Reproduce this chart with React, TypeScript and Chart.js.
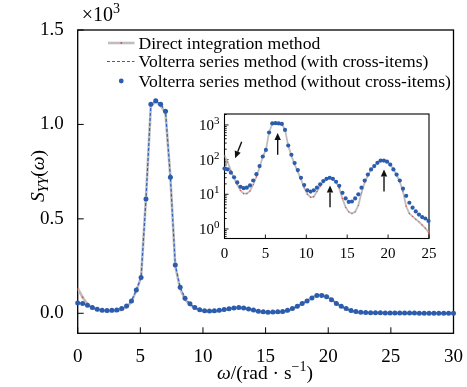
import React, { useEffect, useRef } from 'react';
import { Chart, registerables } from 'chart.js';

Chart.register(...registerables);

// ---------------- data ----------------
const omega = [
  0, 0.39, 0.78, 1.17, 1.56, 1.95, 2.34, 2.73, 3.12, 3.51,
  3.9, 4.29, 4.68, 5.06, 5.45, 5.84, 6.23, 6.62, 7.01, 7.4,
  7.79, 8.18, 8.57, 8.96, 9.35, 9.74, 10.13, 10.52, 10.91, 11.3,
  11.69, 12.08, 12.47, 12.86, 13.25, 13.64, 14.03, 14.42, 14.81, 15.19,
  15.58, 15.97, 16.36, 16.75, 17.14, 17.53, 17.92, 18.31, 18.7, 19.09,
  19.48, 19.87, 20.26, 20.65, 21.04, 21.43, 21.82, 22.21, 22.6, 22.99,
  23.38, 23.77, 24.16, 24.55, 24.94, 25.32, 25.71, 26.1, 26.49, 26.88,
  27.27, 27.66, 28.05, 28.44, 28.83, 29.22, 29.61, 30,
];

const directIntegration = [
  132, 85, 48, 29, 19, 13, 10.5, 10.5, 12.5, 19,
  32, 60, 120, 190, 610, 1100, 1120, 1100, 1060, 720,
  250, 130, 72, 45, 27, 15.5, 10, 8.2, 8.5, 12,
  17, 22.5, 27, 29, 27.5, 22, 15, 7.5, 4.2, 3.1,
  2.8, 3.1, 4.8, 11, 22, 35, 51, 65, 83, 97,
  98, 90, 74, 53, 36, 23, 12, 4.5, 2.8, 2.3,
  1.9, 1.6, 1.3, 1.05, 0.8, 0.7, 0.6, 0.52, 0.46, 0.41,
  0.36, 0.32, 0.29, 0.26, 0.23, 0.21, 0.19, 0.17,
];

const volterraWithCross = [
  55, 52, 42, 31, 22, 16.5, 15, 15.5, 18, 25,
  38, 65, 123, 190, 605, 1107, 1125, 1107, 1070, 720,
  255, 138, 80, 50, 30, 18.5, 13, 12, 13, 15.5,
  19.5, 24, 28, 30, 28, 23, 17.5, 11, 7.6, 6,
  6.2, 7.6, 10, 15.5, 25, 37, 52, 65, 81, 94,
  94, 87, 72, 52, 37, 25, 14.5, 9, 5.7, 4.1,
  3.2, 2.6, 2.2, 2, 1.7, 1.5, 1.3, 1.15, 1, 0.9,
  0.8, 0.7, 0.62, 0.55, 0.5, 0.45, 0.4, 0.36,
];

const volterraWithoutCross = [
  55, 52, 42, 31, 22, 16.5, 15, 15.5, 18, 25,
  38, 65, 123, 190, 605, 1107, 1125, 1107, 1070, 720,
  255, 138, 80, 50, 30, 18.5, 13, 12, 13, 15.5,
  19.5, 24, 28, 30, 28, 23, 17.5, 11, 7.6, 6,
  6.2, 7.6, 10, 15.5, 25, 37, 52, 65, 81, 94,
  94, 87, 72, 52, 37, 25, 14.5, 9, 5.7, 4.1,
  3.2, 2.6, 2.2, 2, 1.7, 1.5, 1.3, 1.15, 1, 0.9,
  0.8, 0.7, 0.62, 0.55, 0.5, 0.45, 0.4, 0.36,
];

const mainXTicks = [0, 5, 10, 15, 20, 25, 30];
const mainYTicks = [0, 0.5, 1.0, 1.5];
const insetXTicks = [0, 5, 10, 15, 20, 25];
const insetYExponents = [0, 1, 2, 3];
const legendLabels = [
  'Direct integration method',
  'Volterra series method (with cross-items)',
  'Volterra series method (without cross-items)',
];
// inset annotation arrows, in data coordinates (omega, S_YY): tail -> head
const arrowTails = [
  [2.1, 330],
  [6.5, 138],
  [12.9, 4.2],
  [19.5, 12],
];
const arrowHeads = [
  [1.3, 110],
  [6.5, 590],
  [12.9, 18],
  [19.5, 52],
];

// ---------------- style ----------------
const SERIF = '"Liberation Serif", "Times New Roman", serif';
const BLUE = '#2b5cad';
const DASH_BLUE = '#2f62c2';
const GRAY = 'rgba(190,190,190,1)';
const RED = '#e2504a';
const MAIN_SCALE = 1000;
const INSET_MAX_X = 25;

type Seg = { t: string; size: number; italic?: boolean; dy?: number };

function drawSegs(ctx: CanvasRenderingContext2D, segs: Seg[], x: number, y: number, align: 'left' | 'center' | 'right') {
  const fontOf = (s: Seg) => `${s.italic ? 'italic ' : ''}${s.size}px ${SERIF}`;
  let total = 0;
  const widths = segs.map((s) => {
    ctx.font = fontOf(s);
    const w = ctx.measureText(s.t).width;
    total += w;
    return w;
  });
  let cx = align === 'center' ? x - total / 2 : align === 'right' ? x - total : x;
  ctx.textAlign = 'left';
  ctx.textBaseline = 'alphabetic';
  segs.forEach((s, i) => {
    ctx.font = fontOf(s);
    ctx.fillText(s.t, cx, y + (s.dy || 0));
    cx += widths[i];
  });
}

const mainFrame = {
  id: 'mainFrame',
  beforeDatasetsDraw(chart: any) {
    const { ctx, chartArea: a, scales } = chart;
    ctx.save();
    ctx.strokeStyle = '#000';
    ctx.lineWidth = 1.3;
    ctx.strokeRect(a.left, a.top, a.right - a.left, a.bottom - a.top);
    ctx.beginPath();
    ctx.lineWidth = 1;
    mainXTicks.forEach((v) => {
      const px = scales.x.getPixelForValue(v);
      ctx.moveTo(px, a.bottom);
      ctx.lineTo(px, a.bottom - 6);
    });
    mainYTicks.forEach((v) => {
      const py = scales.y.getPixelForValue(v);
      ctx.moveTo(a.left, py);
      ctx.lineTo(a.left + 6, py);
    });
    ctx.stroke();
    ctx.restore();
  },
  afterDraw(chart: any) {
    const { ctx, chartArea: a } = chart;
    ctx.save();
    ctx.fillStyle = '#000';
    // multiplier
    drawSegs(ctx, [{ t: '×10', size: 20 }, { t: '3', size: 14, dy: -8 }], a.left + 4, a.top - 9, 'left');
    // y title
    ctx.save();
    ctx.translate(44, 176);
    ctx.rotate(-Math.PI / 2);
    drawSegs(
      ctx,
      [
        { t: 'S', size: 19.5, italic: true },
        { t: 'YY', size: 14, italic: true, dy: 4 },
        { t: '(', size: 19.5 },
        { t: 'ω', size: 19.5, italic: true },
        { t: ')', size: 19.5 },
      ],
      0,
      0,
      'center'
    );
    ctx.restore();
    // x title
    drawSegs(
      ctx,
      [
        { t: 'ω', size: 19.5, italic: true },
        { t: '/(rad', size: 19.5 },
        { t: ' · ', size: 19.5 },
        { t: 's', size: 19.5 },
        { t: '−1', size: 14, dy: -8 },
        { t: ')', size: 19.5 },
      ],
      265,
      379,
      'center'
    );
    // legend
    const rowY = [43, 61.5, 81];
    const x0 = 108;
    const x1 = 134.5;
    const tx = 138.5;
    // row 1: gray line with red marker
    ctx.strokeStyle = GRAY;
    ctx.lineWidth = 2.6;
    ctx.beginPath();
    ctx.moveTo(x0, rowY[0]);
    ctx.lineTo(x1, rowY[0]);
    ctx.stroke();
    ctx.fillStyle = RED;
    ctx.beginPath();
    ctx.arc((x0 + x1) / 2, rowY[0], 1, 0, Math.PI * 2);
    ctx.fill();
    // row 2: dashed blue
    ctx.strokeStyle = DASH_BLUE;
    ctx.lineWidth = 1.2;
    ctx.setLineDash([3, 2]);
    ctx.beginPath();
    ctx.moveTo(x0 - 1, rowY[1]);
    ctx.lineTo(x1, rowY[1]);
    ctx.stroke();
    ctx.setLineDash([]);
    // row 3: dot
    ctx.fillStyle = BLUE;
    ctx.beginPath();
    ctx.arc((x0 + x1) / 2, rowY[2], 2.4, 0, Math.PI * 2);
    ctx.fill();
    ctx.fillStyle = '#000';
    legendLabels.forEach((l, i) => {
      drawSegs(ctx, [{ t: l, size: 17.6 }], tx, rowY[i] + 5.8, 'left');
    });
    ctx.restore();
  },
};

const insetFrame = {
  id: 'insetFrame',
  beforeDatasetsDraw(chart: any) {
    const { ctx, chartArea: a, scales } = chart;
    ctx.save();
    ctx.strokeStyle = '#000';
    ctx.lineWidth = 1.1;
    ctx.strokeRect(a.left, a.top, a.right - a.left, a.bottom - a.top);
    ctx.lineWidth = 0.9;
    ctx.beginPath();
    insetXTicks.forEach((v) => {
      const px = scales.x.getPixelForValue(v);
      ctx.moveTo(px, a.bottom);
      ctx.lineTo(px, a.bottom - 4);
    });
    for (let e = -1; e <= 3; e++) {
      for (let k = 1; k <= 9; k++) {
        const v = k * Math.pow(10, e);
        if (v < scales.y.min || v > scales.y.max) continue;
        const py = scales.y.getPixelForValue(v);
        const len = k === 1 ? 4 : 2.2;
        ctx.moveTo(a.left, py);
        ctx.lineTo(a.left + len, py);
      }
    }
    ctx.stroke();
    // y tick labels 10^n
    ctx.fillStyle = '#000';
    insetYExponents.forEach((e) => {
      const py = scales.y.getPixelForValue(Math.pow(10, e));
      drawSegs(ctx, [{ t: '10', size: 15 }, { t: String(e), size: 11, dy: -6 }], a.left - 5, py + 5, 'right');
    });
    ctx.restore();
  },
  afterDatasetsDraw(chart: any) {
    const { ctx, scales } = chart;
    ctx.save();
    ctx.strokeStyle = '#111';
    ctx.fillStyle = '#111';
    ctx.lineWidth = 1.4;
    arrowTails.forEach((t, i) => {
      const h = arrowHeads[i];
      const xa = scales.x.getPixelForValue(t[0]);
      const ya = scales.y.getPixelForValue(t[1]);
      const xb = scales.x.getPixelForValue(h[0]);
      const yb = scales.y.getPixelForValue(h[1]);
      const ang = Math.atan2(yb - ya, xb - xa);
      const hl = 7;
      const hw = 3.2;
      const bx = xb - hl * Math.cos(ang);
      const by = yb - hl * Math.sin(ang);
      ctx.beginPath();
      ctx.moveTo(xa, ya);
      ctx.lineTo(bx, by);
      ctx.stroke();
      ctx.beginPath();
      ctx.moveTo(xb, yb);
      ctx.lineTo(bx + hw * Math.sin(ang), by - hw * Math.cos(ang));
      ctx.lineTo(bx - hw * Math.sin(ang), by + hw * Math.cos(ang));
      ctx.closePath();
      ctx.fill();
    });
    ctx.restore();
  },
};

function MainChart() {
  const ref = useRef<HTMLCanvasElement | null>(null);
  useEffect(() => {
    if (!ref.current) return;
    const pts = (vals: number[]) => omega.map((x, i) => ({ x, y: vals[i] / MAIN_SCALE }));
    const chart = new Chart(ref.current, {
      type: 'line',
      data: {
        datasets: [
          {
            label: legendLabels[2],
            data: pts(volterraWithoutCross),
            showLine: false,
            pointRadius: 2.5,
            pointBackgroundColor: BLUE,
            pointBorderWidth: 0,
            borderColor: BLUE,
            clip: false,
          },
          {
            label: legendLabels[1],
            data: pts(volterraWithCross),
            borderColor: DASH_BLUE,
            borderWidth: 1.2,
            borderDash: [3, 2],
            pointRadius: 0,
            tension: 0,
          },
          {
            label: legendLabels[0],
            data: pts(directIntegration),
            borderColor: GRAY,
            borderWidth: 2.6,
            pointRadius: 0.9,
            pointBackgroundColor: RED,
            pointBorderWidth: 0,
            tension: 0,
          },
        ],
      } as any,
      options: {
        animation: false,
        responsive: false,
        events: [],
        layout: { padding: { left: 0, top: 30, right: 10.5, bottom: 0 } },
        plugins: { legend: { display: false }, tooltip: { enabled: false } },
        scales: {
          x: {
            type: 'linear',
            min: 0,
            max: 30,
            grid: { display: false },
            border: { display: false },
            afterFit: (s: any) => {
              s.height = 53.7;
            },
            afterBuildTicks: (s: any) => {
              s.ticks = mainXTicks.map((v) => ({ value: v }));
            },
            ticks: {
              autoSkip: false,
              maxRotation: 0,
              padding: 4,
              color: '#000',
              font: { family: SERIF, size: 19 },
              callback: (v: any) => String(v),
            },
          },
          y: {
            type: 'linear',
            min: -0.106,
            max: 1.5,
            grid: { display: false },
            border: { display: false },
            afterFit: (s: any) => {
              s.width = 77.7;
            },
            afterBuildTicks: (s: any) => {
              s.ticks = mainYTicks.map((v) => ({ value: v }));
            },
            ticks: {
              autoSkip: false,
              padding: 6,
              color: '#000',
              font: { family: SERIF, size: 19 },
              callback: (v: any) => Number(v).toFixed(1),
            },
          },
        },
      } as any,
      plugins: [mainFrame],
    });
    return () => chart.destroy();
  }, []);
  return <canvas ref={ref} width={467} height={387} style={{ position: 'absolute', left: 0, top: 0, width: 467, height: 387 }} />;
}

function InsetChart() {
  const ref = useRef<HTMLCanvasElement | null>(null);
  useEffect(() => {
    if (!ref.current) return;
    const pts = (vals: number[]) =>
      omega.map((x, i) => ({ x, y: vals[i] })).filter((p) => p.x <= INSET_MAX_X);
    const chart = new Chart(ref.current, {
      type: 'line',
      data: {
        datasets: [
          {
            data: pts(volterraWithoutCross),
            showLine: false,
            pointRadius: 2.1,
            pointBackgroundColor: BLUE,
            pointBorderWidth: 0,
            borderColor: BLUE,
            clip: false,
          },
          {
            data: pts(directIntegration),
            borderColor: GRAY,
            borderWidth: 1.8,
            pointRadius: 0.7,
            pointBackgroundColor: RED,
            pointBorderWidth: 0,
            tension: 0,
          },
        ],
      } as any,
      options: {
        animation: false,
        responsive: false,
        events: [],
        layout: { padding: { left: 0, top: 14, right: 11, bottom: 0 } },
        plugins: { legend: { display: false }, tooltip: { enabled: false } },
        scales: {
          x: {
            type: 'linear',
            min: 0,
            max: 25,
            grid: { display: false },
            border: { display: false },
            afterFit: (s: any) => {
              s.height = 26.5;
            },
            afterBuildTicks: (s: any) => {
              s.ticks = insetXTicks.map((v) => ({ value: v }));
            },
            ticks: {
              autoSkip: false,
              maxRotation: 0,
              padding: -1,
              color: '#000',
              font: { family: SERIF, size: 15 },
              callback: (v: any) => String(v),
            },
          },
          y: {
            type: 'logarithmic',
            min: 0.53,
            max: 2070,
            grid: { display: false },
            border: { display: false },
            afterFit: (s: any) => {
              s.width = 36.5;
            },
            ticks: { display: false },
          },
        },
      } as any,
      plugins: [insetFrame],
    });
    return () => chart.destroy();
  }, []);
  return (
    <canvas
      ref={ref}
      width={252}
      height={165}
      style={{ position: 'absolute', left: 188, top: 100, width: 252, height: 165, background: '#fff' }}
    />
  );
}

export default function App() {
  return (
    <div style={{ position: 'absolute', left: 0, top: 0, width: 467, height: 387, background: '#fff' }}>
      <MainChart />
      <InsetChart />
    </div>
  );
}
